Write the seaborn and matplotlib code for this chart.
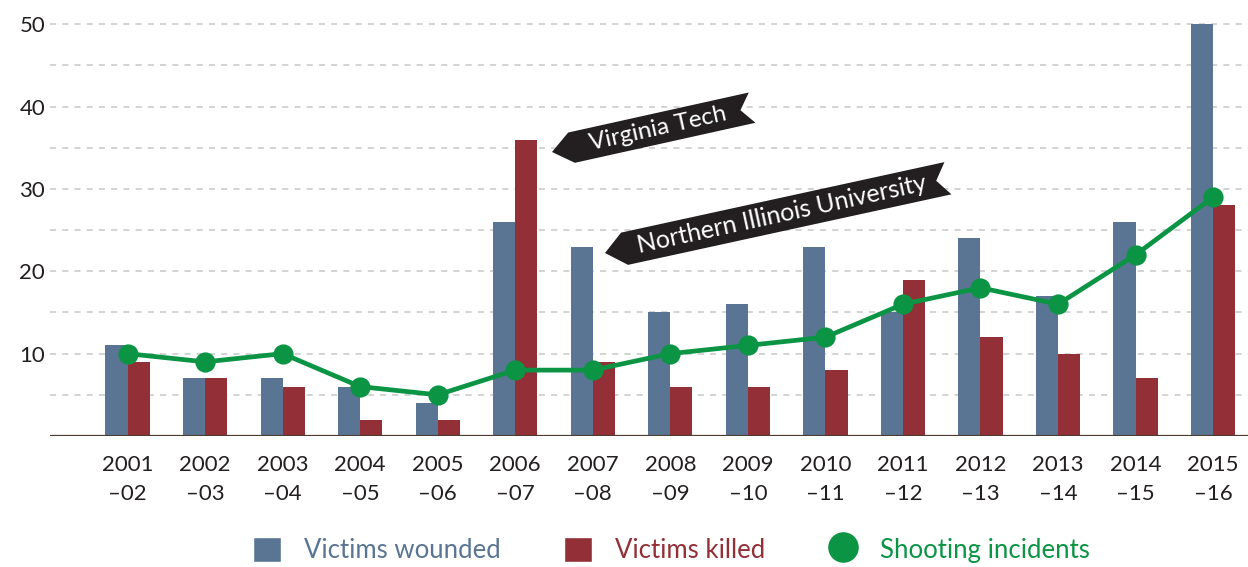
import numpy as np
import pandas as pd
import matplotlib
matplotlib.use('Agg')
import matplotlib.pyplot as plt
import seaborn as sns
from matplotlib.patches import Polygon
from matplotlib.lines import Line2D
from matplotlib.patches import Patch

seasons = ['2001\n–02', '2002\n–03', '2003\n–04', '2004\n–05', '2005\n–06',
           '2006\n–07', '2007\n–08', '2008\n–09', '2009\n–10', '2010\n–11',
           '2011\n–12', '2012\n–13', '2013\n–14', '2014\n–15', '2015\n–16']
wounded = [11, 7, 7, 6, 4, 26, 23, 15, 16, 23, 15, 24, 17, 26, 50]
killed = [9, 7, 6, 2, 2, 36, 9, 6, 6, 8, 19, 12, 10, 7, 28]
incidents = [10, 9, 10, 6, 5, 8, 8, 10, 11, 12, 16, 18, 16, 22, 29]

blue = '#5a7594'
red = '#922f37'
green = '#0b9444'
W, H = 1248, 567

df = pd.DataFrame({
    'season': seasons * 2,
    'count': wounded + killed,
    'type': ['Victims wounded'] * len(seasons) + ['Victims killed'] * len(seasons),
})

sns.set_style('white')
plt.rcParams['font.family'] = ['Lato', 'DejaVu Sans']

fig = plt.figure(figsize=(W / 100, H / 100), dpi=100)
ax = fig.add_axes([50 / W, 1 - 436 / H, 1 - 50 / W, 420 / H])

sns.barplot(data=df, x='season', y='count', hue='type', order=seasons,
            palette=[blue, red], width=0.57, saturation=1, legend=False,
            linewidth=0, ax=ax)
sns.pointplot(x=seasons, y=incidents, order=seasons, color=green,
              markers='o', markersize=12, linewidth=3.4, ax=ax)

ax.set_xlim(-1.0, 14.45)
ax.set_ylim(0, 51)
ax.set_yticks(range(10, 51, 10))
ax.set_yticks(range(5, 51, 10), minor=True)
ax.grid(True, which='both', axis='y', color='#c8c8c8', linestyle=(0, (4, 4)), linewidth=1.1)
ax.set_axisbelow(True)
for s in ax.spines.values():
    s.set_visible(False)
ax.axhline(0, color='#4d3b30', linewidth=1.6)
ax.tick_params(axis='both', which='both', length=0, labelsize=16, colors='#231f20')
ax.tick_params(axis='x', pad=14)
for lbl in ax.get_xticklabels():
    lbl.set_linespacing(1.55)
ax.set_xlabel('')
ax.set_ylabel('')


def banner(tip, length, height, angle, text, size):
    th = np.deg2rad(angle)
    u = np.array([np.cos(th), -np.sin(th)])
    n = np.array([-np.sin(th), -np.cos(th)])
    tip = np.array(tip, dtype=float)
    head, notch = 20, 12
    local = [(0, 0), (head, height / 2), (length, height / 2),
             (length - notch, 0), (length, -height / 2), (head, -height / 2)]
    pts = [tip + a * u + b * n for a, b in local]
    pts = [(p[0] / W, 1 - p[1] / H) for p in pts]
    fig.patches.append(Polygon(pts, closed=True, facecolor='#231f20',
                               edgecolor='none', transform=fig.transFigure))
    c = tip + ((head + length - notch) / 2 + 2) * u
    fig.text(c[0] / W, 1 - c[1] / H, text, color='white', fontsize=size,
             rotation=angle, rotation_mode='anchor', ha='center', va='center')


banner((552, 152), 205, 31, 12.5, 'Virginia Tech', 17.5)
banner((605, 253), 351, 33, 12.3, 'Northern Illinois University', 18)

handles = [Patch(facecolor=blue), Patch(facecolor=red),
           Line2D([], [], marker='o', color='none', markerfacecolor=green,
                  markeredgecolor=green, markersize=21)]
leg = fig.legend(handles, ['Victims wounded', 'Victims killed', 'Shooting incidents'],
                 loc='center', bbox_to_anchor=(0.538, 0.03), ncol=3, frameon=False,
                 fontsize=18.5, handlelength=1.1, handleheight=1.1, handletextpad=0.9,
                 columnspacing=2.45)
for t, c in zip(leg.get_texts(), [blue, red, green]):
    t.set_color(c)

fig.savefig('out.png', dpi=100)
